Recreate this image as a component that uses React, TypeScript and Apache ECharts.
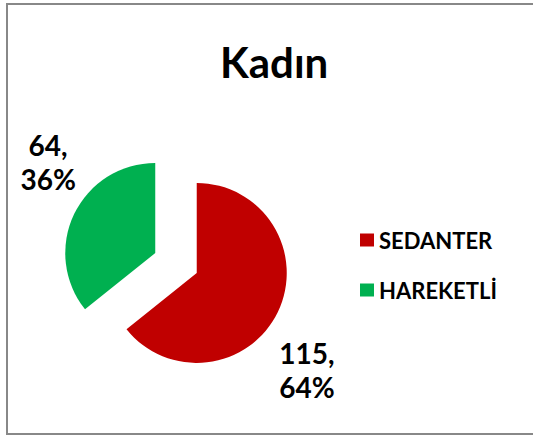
import React, { useEffect, useRef } from "react";
import * as echarts from "echarts";

const titleText = "Kadın";
const categories = ["SEDANTER", "HAREKETLİ"];
const values = [115, 64];
const colors = ["#C00000", "#00B050"];
const labelShift = [
  [15, 54],
  [-12, -48],
];

export default function App() {
  const ref = useRef<HTMLDivElement>(null);
  useEffect(() => {
    if (!ref.current) return;
    const chart = echarts.init(ref.current, undefined, { renderer: "svg" });
    const font = "Lato";
    chart.setOption({
      animation: false,
      backgroundColor: "#ffffff",
      title: {
        text: titleText,
        left: 220,
        top: 41,
        padding: 0,
        textStyle: { fontFamily: font, fontWeight: "bold", fontSize: 42, color: "#000" },
      },
      legend: {
        orient: "vertical",
        left: 355,
        top: 224,
        itemWidth: 14,
        itemHeight: 13,
        itemGap: 28,
        icon: "rect",
        data: categories,
        textStyle: { fontFamily: font, fontWeight: "bold", fontSize: 22, color: "#000" },
      },
      graphic: [
        {
          type: "rect",
          shape: { x: 7, y: 4, width: 540, height: 430 },
          style: { fill: "none", stroke: "#888888", lineWidth: 2 },
          silent: true,
        },
      ],
      series: [
        {
          type: "pie",
          center: [176, 263],
          radius: 90,
          startAngle: 90,
          clockwise: true,
          selectedMode: "multiple",
          selectedOffset: 23,
          percentPrecision: 0,
          emphasis: { disabled: true },
          label: {
            show: true,
            position: "outside",
            formatter: "{c},\n{d}%",
            fontFamily: font,
            fontWeight: "bold",
            fontSize: 28,
            lineHeight: 34,
            color: "#000",
          },
          labelLine: { show: false, length: 10, length2: 0 },
          labelLayout: (p: any) => ({
            align: "center",
            dx: labelShift[p.dataIndex][0],
            dy: labelShift[p.dataIndex][1],
          }),
          data: categories.map((c, i) => ({
            name: c,
            value: values[i],
            selected: true,
            itemStyle: { color: colors[i] },
          })),
        },
      ],
    });
    return () => chart.dispose();
  }, []);
  return (
    <div
      ref={ref}
      style={{ position: "absolute", left: 0, top: 0, width: 533, height: 439, background: "#fff" }}
    />
  );
}
